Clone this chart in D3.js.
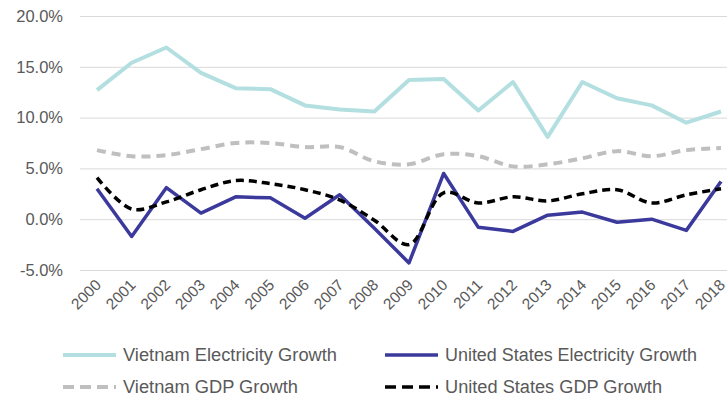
<!DOCTYPE html>
<html>
<head>
<meta charset="utf-8">
<script src="https://cdn.jsdelivr.net/npm/d3@7"></script>
<style>
  body { margin: 0; background: #fff; }
  text { font-family: "Liberation Sans", Arial, sans-serif; }
</style>
</head>
<body>
<div id="chart"></div>
<script>
var years = ["2000","2001","2002","2003","2004","2005","2006","2007","2008","2009",
             "2010","2011","2012","2013","2014","2015","2016","2017","2018"];
var vnElec = [12.7, 15.4, 16.9, 14.4, 12.9, 12.8, 11.2, 10.8, 10.6, 13.7,
              13.8, 10.7, 13.5, 8.1, 13.5, 11.9, 11.2, 9.5, 10.6];
var usElec = [3.0, -1.7, 3.1, 0.6, 2.2, 2.1, 0.1, 2.4, -0.9, -4.3,
              4.5, -0.8, -1.2, 0.4, 0.7, -0.3, 0.0, -1.1, 3.7];
var vnGdp = [6.8, 6.2, 6.3, 6.9, 7.5, 7.5, 7.1, 7.1, 5.7, 5.4,
             6.4, 6.2, 5.2, 5.4, 6.0, 6.7, 6.2, 6.8, 7.0];
var usGdp = [4.1, 1.0, 1.7, 2.9, 3.8, 3.5, 2.9, 1.9, -0.1, -2.5,
             2.6, 1.6, 2.2, 1.8, 2.5, 2.9, 1.6, 2.4, 3.0];
var yTicks = [-5, 0, 5, 10, 15, 20];

var series = [
  {name: "Vietnam Electricity Growth", values: vnElec, color: "#b3dfe1", width: 4, dash: null, smooth: false, textW: 214},
  {name: "United States Electricity Growth", values: usElec, color: "#3b3a9c", width: 3.5, dash: null, smooth: false, textW: 252},
  {name: "Vietnam GDP Growth", values: vnGdp, color: "#bfbfbf", width: 4, dash: "9,6", smooth: true, textW: 175},
  {name: "United States GDP Growth", values: usGdp, color: "#000000", width: 3.5, dash: "8,5", smooth: true, textW: 217}
];

var w = 727, h = 400;
var svg = d3.select("#chart").append("svg").attr("width", w).attr("height", h);

var x = d3.scalePoint().domain(years).range([97, 721]);
var y = d3.scaleLinear().domain([-5, 20]).range([270, 16]);

// gridlines
svg.append("g")
  .selectAll("line")
  .data(yTicks)
  .join("line")
  .attr("x1", 80).attr("x2", w)
  .attr("y1", d => y(d) + 0.5).attr("y2", d => y(d) + 0.5)
  .attr("stroke", "#d9d9d9")
  .attr("stroke-width", 1);

// y labels
svg.append("g")
  .selectAll("text")
  .data(yTicks)
  .join("text")
  .attr("x", 63)
  .attr("y", d => y(d))
  .attr("dy", "0.35em")
  .attr("text-anchor", "end")
  .attr("font-size", 16.5)
  .attr("fill", "#595959")
  .text(d => d.toFixed(1) + "%");

// x labels
svg.append("g")
  .selectAll("text")
  .data(years)
  .join("text")
  .attr("transform", d => "translate(" + (x(d) + 5) + ",286) rotate(-45)")
  .attr("text-anchor", "end")
  .attr("font-size", 15.5)
  .attr("fill", "#595959")
  .text(d => d);

// lines
series.forEach(function(s) {
  var line = d3.line()
    .x((d, i) => x(years[i]))
    .y(d => y(d))
    .curve(s.smooth ? d3.curveCatmullRom.alpha(0.5) : d3.curveLinear);
  svg.append("path")
    .datum(s.values)
    .attr("d", line)
    .attr("fill", "none")
    .attr("stroke", s.color)
    .attr("stroke-width", s.width)
    .attr("stroke-dasharray", s.dash)
    .attr("stroke-linejoin", "round");
});

// legend
var legX = [63, 385], legY = [355, 387];
series.forEach(function(s, i) {
  var lx = legX[i % 2], ly = legY[Math.floor(i / 2)];
  svg.append("line")
    .attr("x1", lx).attr("x2", lx + 53)
    .attr("y1", ly).attr("y2", ly)
    .attr("stroke", s.color)
    .attr("stroke-width", s.width)
    .attr("stroke-dasharray", s.dash ? "11,6" : null);
  svg.append("text")
    .attr("x", lx + 60)
    .attr("y", ly)
    .attr("dy", "0.35em")
    .attr("font-size", 18)
    .attr("fill", "#595959")
    .attr("textLength", s.textW)
    .attr("lengthAdjust", "spacingAndGlyphs")
    .text(s.name);
});
</script>
</body>
</html>
